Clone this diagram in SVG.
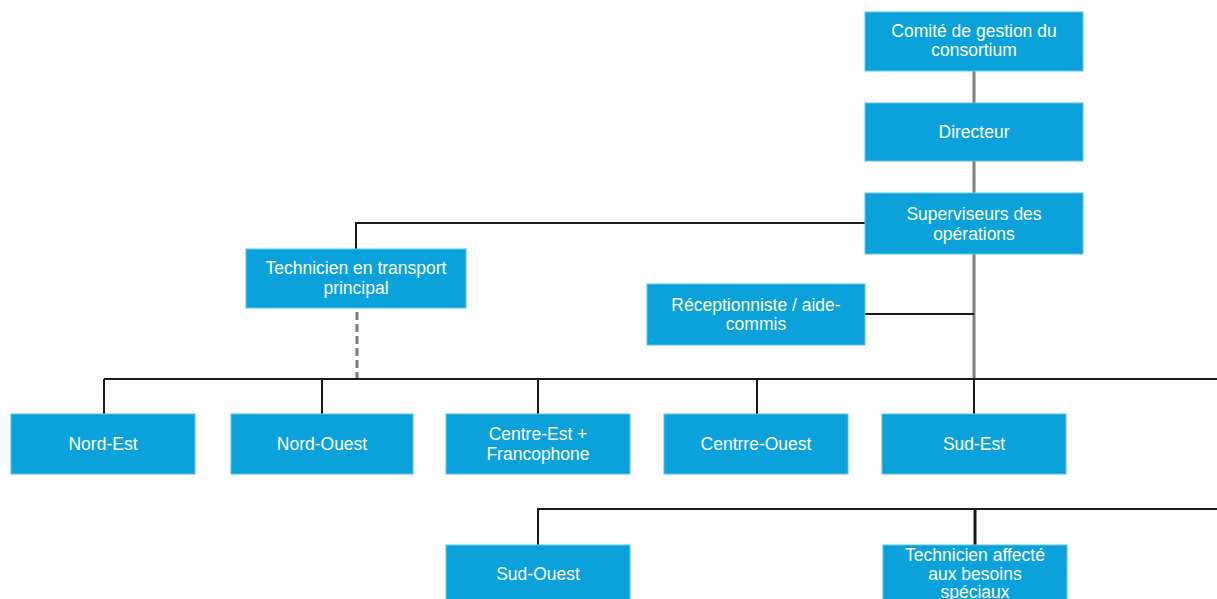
<svg xmlns="http://www.w3.org/2000/svg" width="1217" height="599" viewBox="0 0 1217 599">
<style>
.box{fill:#0ba2dc;stroke:#5cc3ea;stroke-width:1}
.t{font-family:"Liberation Sans",Arial,sans-serif;font-size:17.5px;fill:#ffffff;text-anchor:middle}
.ln{fill:none;stroke:#1a1a1a;stroke-width:2}
.gr{fill:none;stroke:#7f7f7f;stroke-width:3}
.ds{fill:none;stroke:#7f7f7f;stroke-width:3;stroke-dasharray:8,4}
</style>
<rect width="1217" height="599" fill="#ffffff"/>
<g id="connectors">
<line class="gr" x1="974" y1="71" x2="974" y2="103"/>
<line class="gr" x1="974" y1="161" x2="974" y2="193"/>
<polyline class="ln" points="865,223 356,223 356,249"/>
<line class="gr" x1="974" y1="254" x2="974" y2="379"/>
<line class="ln" x1="865" y1="314" x2="974" y2="314"/>
<line class="ds" x1="357" y1="312" x2="357" y2="379"/>
<line class="ln" x1="104" y1="379" x2="1217" y2="379"/>
<line class="ln" x1="104" y1="379" x2="104" y2="414"/>
<line class="ln" x1="322" y1="379" x2="322" y2="414"/>
<line class="ln" x1="538" y1="379" x2="538" y2="414"/>
<line class="ln" x1="757" y1="379" x2="757" y2="414"/>
<line class="ln" x1="974" y1="379" x2="974" y2="414"/>
<polyline class="ln" points="538,545 538,509 1217,509"/>
<line class="ln" x1="975" y1="509" x2="975" y2="545" style="stroke-width:3"/>
</g>
<g id="comite"><rect class="box" x="865" y="12" width="218" height="59"/><text class="t" x="974" y="37">Comité de gestion du</text><text class="t" x="974" y="56">consortium</text></g>
<g id="directeur"><rect class="box" x="865" y="103" width="218" height="58"/><text class="t" x="974" y="138">Directeur</text></g>
<g id="superviseurs"><rect class="box" x="865" y="193" width="218" height="61"/><text class="t" x="974" y="220">Superviseurs des</text><text class="t" x="974" y="240">opérations</text></g>
<g id="technicien-transport"><rect class="box" x="246" y="249" width="220" height="59"/><text class="t" x="356" y="274">Technicien en transport</text><text class="t" x="356" y="294">principal</text></g>
<g id="receptionniste"><rect class="box" x="647" y="284" width="218" height="61"/><text class="t" x="756" y="311">Réceptionniste / aide-</text><text class="t" x="756" y="330">commis</text></g>
<g id="nord-est"><rect class="box" x="11" y="414" width="184" height="60"/><text class="t" x="103" y="450">Nord-Est</text></g>
<g id="nord-ouest"><rect class="box" x="231" y="414" width="182" height="60"/><text class="t" x="322" y="450">Nord-Ouest</text></g>
<g id="centre-est"><rect class="box" x="446" y="414" width="184" height="60"/><text class="t" x="538" y="440">Centre-Est +</text><text class="t" x="538" y="460">Francophone</text></g>
<g id="centre-ouest"><rect class="box" x="664" y="414" width="184" height="60"/><text class="t" x="756" y="450">Centrre-Ouest</text></g>
<g id="sud-est"><rect class="box" x="882" y="414" width="184" height="60"/><text class="t" x="974" y="450">Sud-Est</text></g>
<g id="sud-ouest"><rect class="box" x="446" y="545" width="184" height="62"/><text class="t" x="538" y="580">Sud-Ouest</text></g>
<g id="technicien-besoins"><rect class="box" x="883" y="545" width="184" height="62"/><text class="t" x="975" y="561">Technicien affecté</text><text class="t" x="975" y="580">aux besoins</text><text class="t" x="975" y="598">spéciaux</text></g>
</svg>
